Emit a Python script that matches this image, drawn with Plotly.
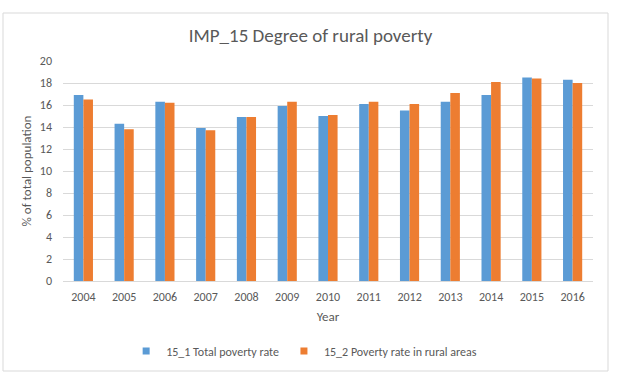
import plotly.graph_objects as go

years = ["2004", "2005", "2006", "2007", "2008", "2009", "2010",
         "2011", "2012", "2013", "2014", "2015", "2016"]
total_poverty = [16.9, 14.3, 16.3, 13.9, 14.9, 15.9, 15.0, 16.1, 15.5, 16.3, 16.9, 18.5, 18.3]
rural_poverty = [16.5, 13.8, 16.2, 13.7, 14.9, 16.3, 15.1, 16.3, 16.1, 17.1, 18.1, 18.4, 18.0]
y_ticks = [0, 2, 4, 6, 8, 10, 12, 14, 16, 18, 20]

FONT = "Calibri, Carlito, Lato, sans-serif"
GREY = "#595959"
BLUE = "#5B9BD5"
ORANGE = "#ED7D31"

fig = go.Figure()
fig.add_trace(go.Bar(x=years, y=total_poverty, name="15_1 Total poverty rate",
                     marker=dict(color=BLUE, line=dict(width=0)), showlegend=False))
fig.add_trace(go.Bar(x=years, y=rural_poverty, name="15_2 Poverty rate in rural areas",
                     marker=dict(color=ORANGE, line=dict(width=0)), showlegend=False))
# legend entries with small square markers (Excel style)
fig.add_trace(go.Scatter(x=[None], y=[None], mode="markers", name="15_1 Total poverty rate",
                         marker=dict(symbol="square", size=7, color=BLUE)))
fig.add_trace(go.Scatter(x=[None], y=[None], mode="markers", name="15_2 Poverty rate in rural areas",
                         marker=dict(symbol="square", size=7, color=ORANGE)))

fig.update_layout(
    width=621, height=391,
    margin=dict(l=63, r=28, t=61, b=110, autoexpand=False),
    paper_bgcolor="white", plot_bgcolor="white",
    font=dict(family=FONT, size=12, color=GREY),
    title=dict(text="IMP_15 Degree of rural poverty", x=0.5, xanchor="center",
               y=1 - 35 / 391, yanchor="middle", yref="container",
               font=dict(family=FONT, size=19, color=GREY)),
    barmode="group", bargap=0.53, bargroupgap=0,
    showlegend=True,
    legend=dict(orientation="h", x=0.455, xanchor="center", y=-0.318, yanchor="middle",
                font=dict(family=FONT, size=12, color=GREY), itemwidth=30,
                traceorder="normal"),
    xaxis=dict(type="category", showgrid=False, showline=True, linecolor="#D9D9D9",
               linewidth=1, ticks="", ticklabelstandoff=5,
               title=dict(text="Year", standoff=8, font=dict(family=FONT, size=13, color=GREY))),
    yaxis=dict(range=[0, 20], tickvals=y_ticks, showgrid=True, gridcolor="#D9D9D9",
               gridwidth=1, zeroline=False, showline=False, ticks="",
               ticklabelstandoff=10,
               title=dict(text="% of total population", standoff=5,
                          font=dict(family=FONT, size=13, color=GREY))),
    shapes=[dict(type="rect", xref="paper", yref="paper",
                 x0=(3 - 63) / 530, x1=(608 - 63) / 530,
                 y0=(281 - 371) / 220, y1=(281 - 13) / 220,
                 line=dict(color="#D9D9D9", width=1), fillcolor="rgba(0,0,0,0)",
                 layer="below")],
)

fig.write_html("out.html", config={"displayModeBar": False},
               post_script="document.body.style.margin='0';")
